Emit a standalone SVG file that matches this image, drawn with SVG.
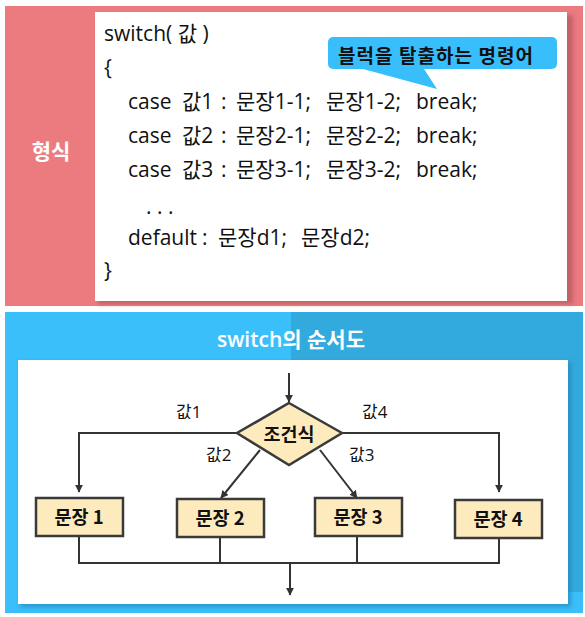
<svg xmlns="http://www.w3.org/2000/svg" width="585" height="617" viewBox="0 0 585 617">
<style>
.code{font-family:"Open Sans","Noto Sans CJK KR",sans-serif;font-size:21px;fill:#111}
.lbl{font-family:"Open Sans","Noto Sans CJK KR",sans-serif;font-size:17px;fill:#111}
.box{fill:#FDEBBE;stroke:#3a3a3a;stroke-width:2.5}
.bt{font-family:"Noto Sans CJK KR",sans-serif;font-size:18.5px;font-weight:bold;fill:#111;text-anchor:middle}
.ln{fill:none;stroke:#333;stroke-width:2}
</style>
<defs>
<marker id="ah" viewBox="0 0 10 10" refX="9" refY="5" markerWidth="4" markerHeight="4" orient="auto" markerUnits="strokeWidth">
<path d="M0,0 L10,5 L0,10 z" fill="#333"/>
</marker>
<filter id="sh" x="-5%" y="-5%" width="110%" height="110%">
<feGaussianBlur stdDeviation="2"/>
</filter>
</defs>
<g id="format-panel">
<rect x="5" y="6" width="578" height="300" fill="#EC7B80"/>
<rect x="98" y="15" width="475" height="289" fill="#b85a60" filter="url(#sh)" opacity="0.8"/>
<rect x="95" y="12" width="472" height="289" fill="#fff"/>
<text x="51" y="159" font-family="Noto Sans CJK KR,sans-serif" font-size="21" font-weight="bold" fill="#fff" text-anchor="middle">형식</text>
<text class="code" x="104" y="41">switch( 값 )</text>
<text class="code" x="104" y="75">{</text>
<g id="case1">
<text class="code" x="128" y="109">case</text><text class="code" x="182" y="109">값1</text><text class="code" x="221" y="109">:</text><text class="code" x="236" y="109">문장1-1;</text><text class="code" x="326" y="109">문장1-2;</text><text class="code" x="416" y="109">break;</text>
</g>
<g id="case2">
<text class="code" x="128" y="143">case</text><text class="code" x="182" y="143">값2</text><text class="code" x="221" y="143">:</text><text class="code" x="236" y="143">문장2-1;</text><text class="code" x="326" y="143">문장2-2;</text><text class="code" x="416" y="143">break;</text>
</g>
<g id="case3">
<text class="code" x="128" y="177">case</text><text class="code" x="182" y="177">값3</text><text class="code" x="221" y="177">:</text><text class="code" x="236" y="177">문장3-1;</text><text class="code" x="326" y="177">문장3-2;</text><text class="code" x="416" y="177">break;</text>
</g>
<text class="code" x="146" y="214">. . .</text>
<g id="default">
<text class="code" x="128" y="245">default</text><text class="code" x="202" y="245">:</text><text class="code" x="218" y="245">문장d1;</text><text class="code" x="301" y="245">문장d2;</text>
</g>
<text class="code" x="104" y="278">}</text>
<g id="callout">
<path d="M363,69 L437,89 L424,69 Z" fill="#38BFFB"/>
<rect x="328" y="37" width="229" height="32" rx="5" fill="#38BFFB"/>
<text x="338" y="63" font-family="Noto Sans CJK KR,sans-serif" font-size="19" font-weight="bold" fill="#111" textLength="195">블럭을 탈출하는 명령어</text>
</g>
</g>
<g id="flow-panel">
<rect x="5" y="312" width="578" height="301" fill="#3ABFFA"/>
<rect x="291" y="312" width="292" height="280" fill="#33AADE"/>
<rect x="20" y="362" width="551" height="245" fill="#1b7fae" filter="url(#sh)" opacity="0.6"/>
<rect x="18" y="360" width="550" height="244" fill="#fff"/>
<text x="291" y="347" font-family="Open Sans,Noto Sans CJK KR,sans-serif" font-size="21" font-weight="600" fill="#fff" text-anchor="middle">switch의 순서도</text>
</g>
<g id="connectors">
<line class="ln" x1="289" y1="373" x2="289" y2="402" marker-end="url(#ah)"/>
<polyline class="ln" points="237,433 79,433 79,492" marker-end="url(#ah)"/>
<polyline class="ln" points="342,433 499,433 499,492" marker-end="url(#ah)"/>
<line class="ln" x1="260" y1="450" x2="221" y2="498" marker-end="url(#ah)"/>
<line class="ln" x1="320" y1="450" x2="357" y2="498" marker-end="url(#ah)"/>
<polyline class="ln" points="79,536 79,563 499,563 499,537"/>
<line class="ln" x1="220" y1="537" x2="220" y2="563"/>
<line class="ln" x1="357" y1="537" x2="357" y2="563"/>
<line class="ln" x1="290" y1="563" x2="290" y2="595" marker-end="url(#ah)"/>
<text class="lbl" x="176" y="418">값1</text>
<text class="lbl" x="362" y="418">값4</text>
<text class="lbl" x="206" y="461">값2</text>
<text class="lbl" x="349" y="461">값3</text>
</g>
<g id="cond">
<polygon class="box" points="289,403 342,433 289,465 237,433"/>
<text class="bt" x="289" y="441">조건식</text>
</g>
<g id="s1"><rect class="box" x="36" y="498" width="87" height="38"/><text class="bt" x="79" y="524">문장 1</text></g>
<g id="s2"><rect class="box" x="177" y="499" width="87" height="38"/><text class="bt" x="220" y="525">문장 2</text></g>
<g id="s3"><rect class="box" x="315" y="498" width="87" height="38"/><text class="bt" x="358" y="524">문장 3</text></g>
<g id="s4"><rect class="box" x="455" y="500" width="87" height="38"/><text class="bt" x="498" y="526">문장 4</text></g>
</svg>
